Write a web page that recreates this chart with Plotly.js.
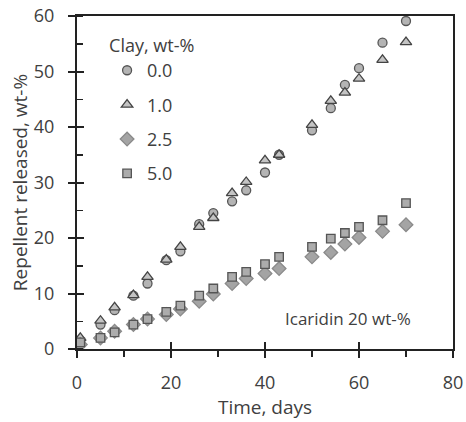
<!DOCTYPE html>
<html>
<head>
<meta charset="utf-8">
<script src="https://cdn.plot.ly/plotly-3.0.1.min.js"></script>
<style>
html,body{margin:0;padding:0;background:#fff;}
#chart{width:466px;height:422px;}
</style>
</head>
<body>
<div id="chart"></div>
<script>
// Time points (days)
var days = [0.7, 5, 8, 12, 15, 19, 22, 26, 29, 33, 36, 40, 43, 50, 54, 57, 60, 65, 70];
// Repellent released, wt-% for each clay content
var clay00 = [1.5, 4.4, 7.0, 9.6, 11.8, 16.0, 17.6, 22.5, 24.5, 26.6, 28.6, 31.8, 35.0, 39.4, 43.4, 47.6, 50.6, 55.2, 59.1];
var clay10 = [2.0, 5.1, 7.5, 9.7, 13.0, 16.1, 18.4, 22.0, 23.6, 28.1, 30.1, 34.0, 35.0, 40.4, 44.7, 46.2, 48.7, 52.1, 55.3];
var clay25 = [0.8, 2.0, 3.2, 4.4, 5.4, 6.2, 7.2, 8.6, 9.9, 11.8, 12.7, 13.6, 14.5, 16.6, 17.4, 18.9, 20.1, 21.2, 22.4];
var clay50 = [1.2, 2.0, 3.0, 4.4, 5.4, 6.7, 7.8, 9.6, 10.9, 13.0, 13.9, 15.3, 16.6, 18.4, 19.9, 20.9, 22.0, 23.2, 26.3];
var seriesNames = ['0.0', '1.0', '2.5', '5.0'];
var xTickVals = [0, 20, 40, 60, 80];
var yTickVals = [0, 10, 20, 30, 40, 50, 60];

var FONT = 'Open Sans, Noto Sans, sans-serif';
var TXT = '#404040';

function mk(y, name, symbol, size, fill, line) {
  return {
    x: days, y: y, name: name, type: 'scatter', mode: 'markers',
    legendgroup: 'g' + name,
    marker: {symbol: symbol, size: size, color: fill, line: {color: line, width: 1.3}}
  };
}

var traces = [
  mk(clay00, seriesNames[0], 'circle', 9, '#b4b4b4', '#555555'),
  mk(clay10, seriesNames[1], 'triangle-up', 10, '#c4c4c4', '#444444'),
  mk(clay25, seriesNames[2], 'diamond', 10.5, '#a4a4a4', '#8a8a8a'),
  mk(clay50, seriesNames[3], 'square', 8.5, '#acacac', '#555555'),
  {x: [], y: [], xaxis: 'x2', yaxis: 'y2', type: 'scatter', mode: 'markers', showlegend: false, hoverinfo: 'skip'}
];

var layout = {
  width: 466, height: 422,
  margin: {l: 77, r: 13, t: 16, b: 73},
  paper_bgcolor: '#fff', plot_bgcolor: '#fff',
  font: {family: FONT, color: TXT, size: 17},
  showlegend: true,
  legend: {
    x: 0.08, y: 0.962, xanchor: 'left', yanchor: 'top',
    bgcolor: 'rgba(0,0,0,0)',
    font: {family: FONT, size: 18, color: TXT},
    title: {text: 'Clay, wt-%', font: {family: FONT, size: 18, color: TXT}},
    tracegroupgap: 8
  },
  xaxis: {
    range: [0, 80], tickvals: xTickVals, ticktext: xTickVals.map(String),
    showgrid: false, zeroline: false,
    showline: true, linecolor: '#222', linewidth: 2, mirror: true,
    ticks: 'outside', ticklen: 7, tickwidth: 2, tickcolor: '#222',
    minor: {dtick: 10, tick0: 0, ticks: 'outside', ticklen: 6, tickwidth: 1.5, tickcolor: '#222', showgrid: false},
    ticklabelstandoff: 9,
    tickfont: {family: FONT, size: 18, color: TXT},
    title: {text: 'Time, days', font: {family: FONT, size: 19, color: TXT}, standoff: 4}
  },
  yaxis: {
    range: [0, 60], tickvals: yTickVals, ticktext: yTickVals.map(String),
    showgrid: false, zeroline: false,
    showline: true, linecolor: '#222', linewidth: 2, mirror: true,
    ticks: 'outside', ticklen: 7, tickwidth: 2, tickcolor: '#222',
    minor: {dtick: 5, tick0: 0, ticks: 'inside', ticklen: 6, tickwidth: 1.5, tickcolor: '#222', showgrid: false},
    ticklabelstandoff: 10,
    tickfont: {family: FONT, size: 18, color: TXT},
    title: {text: 'Repellent released, wt-%', font: {family: FONT, size: 19, color: TXT}, standoff: 1}
  },
  xaxis2: {
    overlaying: 'x', anchor: 'y2', range: [0, 80], tickvals: xTickVals,
    showticklabels: false, showgrid: false, zeroline: false, showline: false,
    ticks: 'inside', ticklen: 7, tickwidth: 2, tickcolor: '#222'
  },
  yaxis2: {
    overlaying: 'y', anchor: 'x2', range: [0, 60], tickvals: yTickVals,
    showticklabels: false, showgrid: false, zeroline: false, showline: false,
    ticks: 'inside', ticklen: 7, tickwidth: 2, tickcolor: '#222'
  },
  annotations: [{
    text: 'Icaridin 20 wt-%', xref: 'paper', yref: 'paper',
    x: 0.894, y: 0.093, xanchor: 'right', yanchor: 'middle', showarrow: false,
    font: {family: FONT, size: 17, color: TXT}
  }]
};

Plotly.newPlot('chart', traces, layout, {displayModeBar: false, staticPlot: true});
</script>
</body>
</html>
